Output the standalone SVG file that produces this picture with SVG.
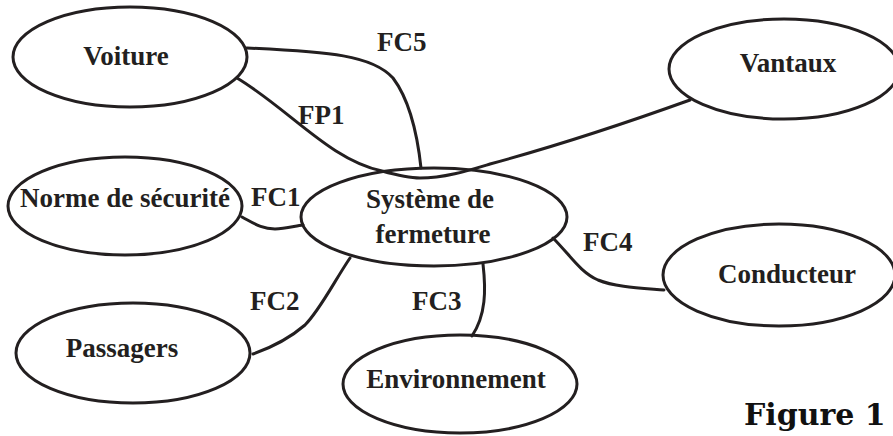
<svg xmlns="http://www.w3.org/2000/svg" width="893" height="436" viewBox="0 0 893 436">
<style>
.node ellipse{fill:none;stroke:#231f20;stroke-width:3}
.node text{font-family:"Liberation Serif","Times New Roman",serif;font-weight:bold;font-size:27px;fill:#231f20;text-anchor:middle}
.lbl{font-family:"Liberation Serif","Times New Roman",serif;font-weight:bold;font-size:27px;fill:#231f20}
.conn path{fill:none;stroke:#231f20;stroke-width:3;stroke-linecap:round}
.fig{font-family:"DejaVu Serif",serif;font-weight:bold;font-size:30px;fill:#111}
</style>
<rect width="893" height="436" fill="#fff"/>
<g id="connectors" class="conn">
<path d="M247,48 C330,52 372,55 393,78 C411,102 418,140 421,168"/>
<path d="M237,78 C290,110 330,160 382,171 C400,176 410,178 420,178 C445,178 470,170 490,164 C560,145 640,118 690,100"/>
<path d="M242,217 C255,224 262,229 275,229 C285,229 295,226 303,225"/>
<path d="M350,258 C335,280 320,310 305,325 C290,338 270,348 253,354"/>
<path d="M483,264 C486,290 486,315 472,336"/>
<path d="M553,238 C570,255 580,272 598,280 C615,287 640,288 664,290"/>
</g>
<g id="labels">
<text class="lbl" x="377" y="51">FC5</text>
<text class="lbl" x="298" y="124">FP1</text>
<text class="lbl" x="251" y="206">FC1</text>
<text class="lbl" x="250" y="310">FC2</text>
<text class="lbl" x="412" y="310">FC3</text>
<text class="lbl" x="583" y="251">FC4</text>
</g>
<g id="voiture" class="node"><ellipse cx="130" cy="57" rx="117" ry="50"/><text x="126" y="65">Voiture</text></g>
<g id="norme" class="node"><ellipse cx="125" cy="206" rx="117" ry="49"/><text x="125" y="207">Norme de sécurité</text></g>
<g id="systeme" class="node"><ellipse cx="434" cy="217" rx="133" ry="49"/><text x="430" y="208">Système de</text><text x="433" y="243">fermeture</text></g>
<g id="vantaux" class="node"><ellipse cx="784" cy="69" rx="115" ry="50"/><text x="788" y="72">Vantaux</text></g>
<g id="conducteur" class="node"><ellipse cx="779" cy="275" rx="116" ry="51"/><text x="787" y="283">Conducteur</text></g>
<g id="passagers" class="node"><ellipse cx="133" cy="353" rx="117" ry="50"/><text x="122" y="357">Passagers</text></g>
<g id="environnement" class="node"><ellipse cx="460" cy="384" rx="117" ry="49"/><text x="456" y="388">Environnement</text></g>
<text class="fig" x="744" y="425">Figure 1</text>
</svg>
